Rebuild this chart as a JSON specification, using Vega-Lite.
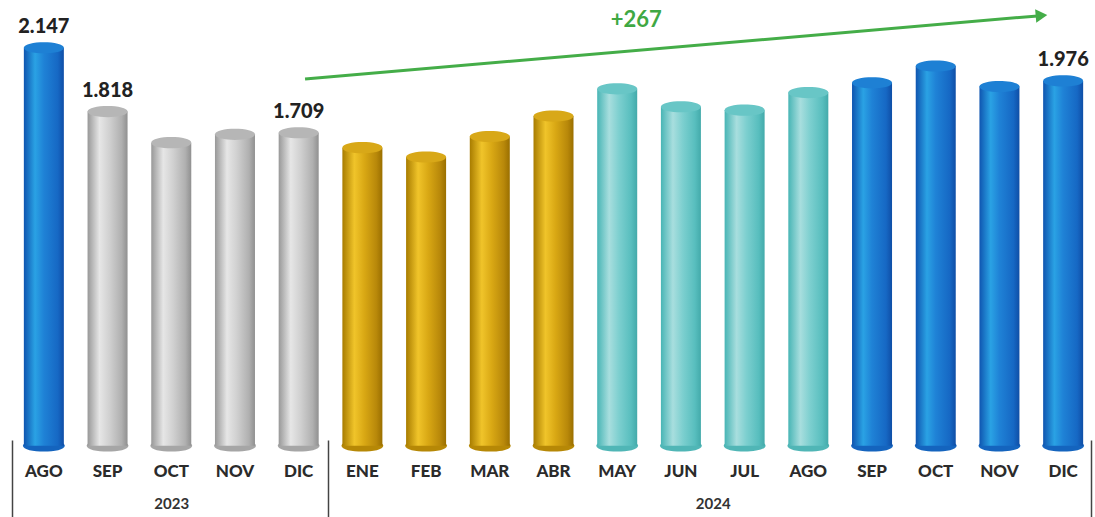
{
  "$schema": "https://vega.github.io/schema/vega-lite/v6.json",
  "width": 1083,
  "height": 450,
  "autosize": {"type": "none"},
  "padding": {"left": 12, "top": 0, "right": 0, "bottom": 67},
  "background": "#ffffff",
  "config": {
    "view": {"stroke": null},
    "locale": {"number": {"decimal": ",", "thousands": ".", "grouping": [3], "currency": ["", " €"]}}
  },
  "datasets": {
    "meses": [
      {"clave": "2023-AGO", "anio": 2023, "mes": "AGO", "valor": 2147, "tramo": "ago23"},
      {"clave": "2023-SEP", "anio": 2023, "mes": "SEP", "valor": 1818, "tramo": "sepdic23"},
      {"clave": "2023-OCT", "anio": 2023, "mes": "OCT", "valor": 1658, "tramo": "sepdic23"},
      {"clave": "2023-NOV", "anio": 2023, "mes": "NOV", "valor": 1701, "tramo": "sepdic23"},
      {"clave": "2023-DIC", "anio": 2023, "mes": "DIC", "valor": 1709, "tramo": "sepdic23"},
      {"clave": "2024-ENE", "anio": 2024, "mes": "ENE", "valor": 1632, "tramo": "eneabr24"},
      {"clave": "2024-FEB", "anio": 2024, "mes": "FEB", "valor": 1584, "tramo": "eneabr24"},
      {"clave": "2024-MAR", "anio": 2024, "mes": "MAR", "valor": 1689, "tramo": "eneabr24"},
      {"clave": "2024-ABR", "anio": 2024, "mes": "ABR", "valor": 1795, "tramo": "eneabr24"},
      {"clave": "2024-MAY", "anio": 2024, "mes": "MAY", "valor": 1935, "tramo": "mayago24"},
      {"clave": "2024-JUN", "anio": 2024, "mes": "JUN", "valor": 1843, "tramo": "mayago24"},
      {"clave": "2024-JUL", "anio": 2024, "mes": "JUL", "valor": 1825, "tramo": "mayago24"},
      {"clave": "2024-AGO", "anio": 2024, "mes": "AGO", "valor": 1916, "tramo": "mayago24"},
      {"clave": "2024-SEP", "anio": 2024, "mes": "SEP", "valor": 1966, "tramo": "sepdic24"},
      {"clave": "2024-OCT", "anio": 2024, "mes": "OCT", "valor": 2053, "tramo": "sepdic24"},
      {"clave": "2024-NOV", "anio": 2024, "mes": "NOV", "valor": 1947, "tramo": "sepdic24"},
      {"clave": "2024-DIC", "anio": 2024, "mes": "DIC", "valor": 1976, "tramo": "sepdic24"}
    ]
  },
  "layer": [
    {
      "data": {"name": "meses"},
      "encoding": {
        "x": {
          "field": "clave", "type": "nominal", "sort": null,
          "scale": {"paddingInner": 0.372, "paddingOuter": 0.186},
          "axis": {
            "orient": "bottom", "title": null, "ticks": false, "domain": false, "grid": false,
            "labelExpr": "split(datum.value, '-')[1]", "labelAngle": 0,
            "labelFont": "Lato", "labelFontSize": 17, "labelFontWeight": 900,
            "labelColor": "#2b2b2b", "labelPadding": 13, "labelBaseline": "top"
          }
        },
        "y": {"field": "valor", "type": "quantitative", "scale": {"domain": [74, 2393], "zero": false, "nice": false}, "axis": null}
      },
      "layer": [
        {
          "mark": {"type": "point", "shape": "M-1,0C-1,-0.373,1,-0.373,1,0C1,0.373,-1,0.373,-1,0Z", "size": 1750, "filled": true, "opacity": 1, "strokeWidth": 0},
          "encoding": {
            "y": {"datum": 96},
            "fill": {"field": "tramo", "type": "nominal", "legend": null,
              "scale": {"domain": ["ago23", "sepdic23", "eneabr24", "mayago24", "sepdic24"], "range": ["#1464be", "#a6a6a6", "#b68806", "#50b6b6", "#1464be"]}}
          }
        },
        {
          "transform": [{"filter": "datum.tramo === 'ago23' || datum.tramo === 'sepdic24'"}],
          "mark": {"type": "bar", "fill": {"gradient": "linear", "x1": 0, "x2": 1, "y1": 0, "y2": 0, "stops": [
            {"offset": 0, "color": "#0f55b0"}, {"offset": 0.28, "color": "#2aa2e4"}, {"offset": 0.5, "color": "#1f82d6"}, {"offset": 0.85, "color": "#1668c4"}, {"offset": 1, "color": "#0f4ea6"}]}},
          "encoding": {"y2": {"datum": 96}}
        },
        {
          "transform": [{"filter": "datum.tramo === 'sepdic23'"}],
          "mark": {"type": "bar", "fill": {"gradient": "linear", "x1": 0, "x2": 1, "y1": 0, "y2": 0, "stops": [
            {"offset": 0, "color": "#989898"}, {"offset": 0.3, "color": "#e6e6e6"}, {"offset": 0.55, "color": "#d0d0d0"}, {"offset": 0.85, "color": "#b0b0b0"}, {"offset": 1, "color": "#909090"}]}},
          "encoding": {"y2": {"datum": 96}}
        },
        {
          "transform": [{"filter": "datum.tramo === 'eneabr24'"}],
          "mark": {"type": "bar", "fill": {"gradient": "linear", "x1": 0, "x2": 1, "y1": 0, "y2": 0, "stops": [
            {"offset": 0, "color": "#a87c00"}, {"offset": 0.3, "color": "#f0c42a"}, {"offset": 0.55, "color": "#d9a814"}, {"offset": 0.85, "color": "#b8880a"}, {"offset": 1, "color": "#9a6f00"}]}},
          "encoding": {"y2": {"datum": 96}}
        },
        {
          "transform": [{"filter": "datum.tramo === 'mayago24'"}],
          "mark": {"type": "bar", "fill": {"gradient": "linear", "x1": 0, "x2": 1, "y1": 0, "y2": 0, "stops": [
            {"offset": 0, "color": "#48b5b5"}, {"offset": 0.3, "color": "#a8dede"}, {"offset": 0.55, "color": "#7ccfcf"}, {"offset": 0.85, "color": "#58bebe"}, {"offset": 1, "color": "#43aaaa"}]}},
          "encoding": {"y2": {"datum": 96}}
        },
        {
          "mark": {"type": "point", "shape": "M-1,0C-1,-0.373,1,-0.373,1,0C1,0.373,-1,0.373,-1,0Z", "size": 1600, "filled": true, "opacity": 1, "strokeWidth": 0},
          "encoding": {
            "color": {"field": "tramo", "type": "nominal", "legend": null,
              "scale": {"domain": ["ago23", "sepdic23", "eneabr24", "mayago24", "sepdic24"], "range": ["#1e80d4", "#b6b6b6", "#d8a818", "#68c6c6", "#1e80d4"]}}
          }
        },
        {
          "transform": [{"filter": {"field": "clave", "oneOf": ["2023-AGO", "2023-SEP", "2023-DIC", "2024-DIC"]}}],
          "mark": {"type": "text", "font": "Lato", "fontSize": 20, "fontWeight": 900, "color": "#222222", "baseline": "alphabetic", "dy": -15},
          "encoding": {"text": {"field": "valor", "type": "quantitative", "format": ",d"}}
        }
      ]
    },
    {
      "encoding": {
        "x": {
          "field": "pos", "type": "quantitative",
          "scale": {"domain": [0, 17], "nice": false, "zero": false},
          "axis": {
            "orient": "bottom", "title": null, "domain": false, "grid": false, "offset": -10,
            "values": [0, 2.5, 4.96, 11, 16.93],
            "labelExpr": "datum.value === 2.5 ? '2023' : (datum.value === 11 ? '2024' : '')",
            "ticks": true, "tickSize": 77, "tickWidth": 1.5, "tickColor": "#444444",
            "tickOpacity": {"condition": {"test": "datum.value === 2.5 || datum.value === 11", "value": 0}, "value": 1},
            "labelPadding": -21, "labelFont": "Lato", "labelFontSize": 15, "labelFontWeight": "bold",
            "labelColor": "#333333", "labelOverlap": false, "labelFlush": false, "labelBaseline": "top"
          }
        },
        "y": {"field": "valor", "type": "quantitative", "scale": {"domain": [74, 2393], "zero": false, "nice": false}, "axis": null}
      },
      "layer": [
        {
          "data": {"values": [{"pos": 4.6, "valor": 1986}, {"pos": 16.1, "valor": 2311}]},
          "mark": {"type": "line", "color": "#44ad48", "strokeWidth": 3}
        },
        {
          "data": {"values": [{"pos": 16.16, "valor": 2313}]},
          "mark": {"type": "point", "shape": "triangle-right", "filled": true, "opacity": 1, "size": 180, "angle": -5, "color": "#44ad48"}
        },
        {
          "data": {"values": [{"pos": 9.8, "valor": 2290, "texto": "+267"}]},
          "mark": {"type": "text", "font": "Lato", "fontSize": 22, "fontWeight": "bold", "color": "#3fa843", "baseline": "middle"},
          "encoding": {"text": {"field": "texto", "type": "nominal"}}
        }
      ]
    }
  ],
  "resolve": {"scale": {"x": "independent"}, "axis": {"x": "independent"}}
}
